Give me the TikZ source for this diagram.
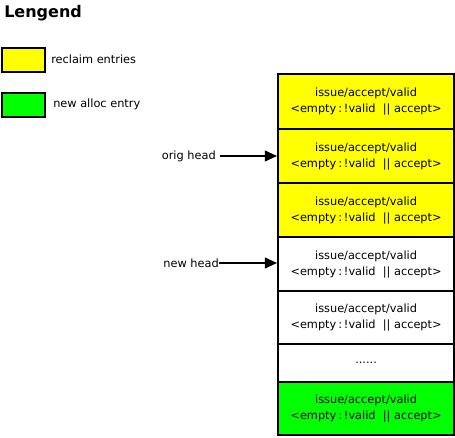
\documentclass[tikz,border=0pt]{standalone}
\usepackage{fontspec}
\setmainfont{DejaVu Sans}
\usetikzlibrary{arrows.meta}
\definecolor{yel}{RGB}{255,255,0}
\definecolor{grn}{RGB}{0,255,0}
\begin{document}
\begin{tikzpicture}[x=0.75pt,y=-0.75pt,
  entry/.style={draw=black,line width=1.6pt,minimum width=176*0.75pt,inner sep=0pt,align=center,font=\fontsize{8.5}{12}\selectfont},
  legbox/.style={draw=black,line width=1.6pt,minimum width=43*0.75pt,minimum height=24*0.75pt,inner sep=0pt},
  lbl/.style={font=\fontsize{8.5}{10}\selectfont,inner sep=0pt},
  ptr/.style={-{Triangle[length=9pt,width=8pt]},line width=1.3pt}]
\useasboundingbox (0,0) rectangle (455,438);
\node[font=\bfseries\fontsize{12}{14}\selectfont,anchor=west,inner sep=0pt] (title) at (4,13) {Lengend};
\node[legbox,fill=yel,anchor=north west] (ly) at (1,47) {};
\node[lbl,anchor=west] (lyt) at (51,59) {reclaim entries};
\node[legbox,fill=grn,anchor=north west] (lg) at (1,92) {};
\node[lbl,anchor=west] (lgt) at (53,104) {new alloc entry};
\newcommand{\entrytext}{issue/accept/valid\\<empty\,:\,!valid\ \ ||\ accept>}
\node[entry,fill=yel,minimum height=55*0.75pt,anchor=north west] (e1) at (277,73) {\entrytext};
\node[entry,fill=yel,minimum height=54*0.75pt,anchor=north west] (e2) at (277,128) {\entrytext};
\node[entry,fill=yel,minimum height=54*0.75pt,anchor=north west] (e3) at (277,182) {\entrytext};
\node[entry,fill=white,minimum height=54*0.75pt,anchor=north west] (e4) at (277,236) {\entrytext};
\node[entry,fill=white,minimum height=53*0.75pt,anchor=north west] (e5) at (277,290) {\entrytext};
\node[entry,fill=white,minimum height=38*0.75pt,anchor=north west] (e6) at (277,343) {......};
\node[entry,fill=grn,minimum height=53*0.75pt,anchor=north west] (e7) at (277,381) {\entrytext};
\node[lbl,anchor=east] (oh) at (216,156) {orig head};
\node[lbl,anchor=east] (nh) at (219,263) {new head};
\draw[ptr] (oh.east) ++(4,0) coordinate (ohs) -- (ohs -| e2.west);
\draw[ptr] (nh.east) -- (nh.east -| e4.west);
\end{tikzpicture}
\end{document}
